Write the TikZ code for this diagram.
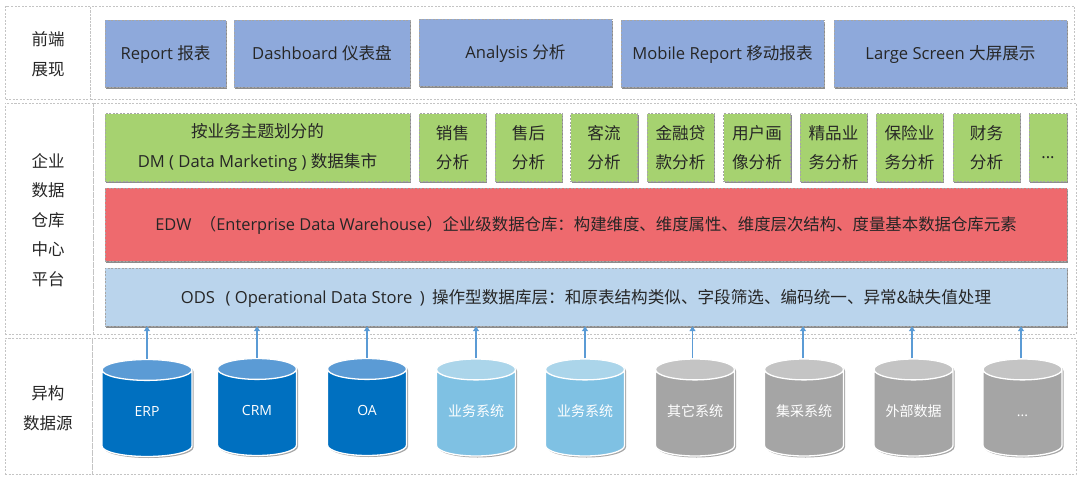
\documentclass[tikz,border=0pt]{standalone}
\usepackage{fontspec}
\setmainfont{Open Sans}
\newfontfamily\cjk{Noto Sans CJK SC}
\usetikzlibrary{shapes.geometric, shadows, arrows.meta}

\newcommand{\zh}[1]{{\cjk #1}}
\newcommand{\storetext}[1]{\makebox[58pt]{\raisebox{-3pt}[0pt][0pt]{#1}}}

\definecolor{framegray}{HTML}{C4C4C4}
\definecolor{inkgray}{HTML}{262626}
\definecolor{bluefill}{HTML}{8EA9DB}
\definecolor{greenfill}{HTML}{A6D270}
\definecolor{redfill}{HTML}{EE6A6E}
\definecolor{skyfill}{HTML}{BAD4EC}
\definecolor{arrowblue}{HTML}{5B9BD5}
\definecolor{darkbody}{HTML}{0070C0}
\definecolor{darkend}{HTML}{5B9BD5}
\definecolor{lightbody}{HTML}{7FC1E3}
\definecolor{lightend}{HTML}{ABD5EA}
\definecolor{graybody}{HTML}{A5A5A5}
\definecolor{grayend}{HTML}{C4C4C4}

\tikzset{
    framecell/.style={draw=framegray, dash pattern=on 2pt off 1.5pt, line width=0.6pt, inner sep=0pt},
    rowlabel/.style={text=inkgray, align=center, inner sep=0pt, font=\fontsize{16.5}{29.5}\selectfont},
    layerbox/.style={draw=black!35, dash pattern=on 2pt off 1.5pt, line width=0.4pt, text=inkgray, align=center, inner sep=0pt,
        font=\fontsize{16.6}{29.5}\selectfont,
        drop shadow={shadow xshift=1pt, shadow yshift=-1.5pt, opacity=0.45, fill=black}},
    widebox/.style={layerbox, execute at begin node={\rule[-6pt]{0pt}{24.5pt}}},
    bluebox/.style={widebox, fill=bluefill, minimum height=67pt},
    greenbox/.style={layerbox, fill=greenfill, minimum height=68pt, execute at begin node={\rule{0pt}{22pt}}},
    storeshape/.style={cylinder, shape border rotate=90, aspect=0.36, anchor=shape center, inner sep=0pt,
        minimum width=79pt, minimum height=97pt},
    storeshadow/.style={storeshape, fill=black, opacity=0.35, xshift=1.5pt, yshift=-1.5pt},
    store/.style={storeshape, draw=white, line width=1.3pt, cylinder uses custom fill, text=white,
        font=\fontsize{14}{16}\selectfont},
    darkstore/.style={store, cylinder body fill=darkbody, cylinder end fill=darkend},
    lightstore/.style={store, cylinder body fill=lightbody, cylinder end fill=lightend},
    graystore/.style={store, cylinder body fill=graybody, cylinder end fill=grayend},
    feed/.style={draw=arrowblue, line width=1.1pt, -{Triangle[length=5pt, width=6pt]}}
}

\begin{document}
\begin{tikzpicture}[x=1pt, y=-1pt]
    \useasboundingbox (0, 0) rectangle (1080, 477);

    % frames
    \node[framecell, minimum width=85pt, minimum height=93pt] at (48, 52.5) (frontcell) {};
    \node[framecell, minimum width=984pt, minimum height=93pt] at (582.5, 52.5) (frontmain) {};
    \node[framecell, minimum width=88pt, minimum height=231pt] at (49, 218.5) (dwcell) {};
    \node[framecell, minimum width=983pt, minimum height=231pt] at (584.5, 218.5) (dwmain) {};
    \node[framecell, minimum width=87pt, minimum height=136pt] at (48.5, 406) (srccell) {};
    \node[framecell, minimum width=984pt, minimum height=136pt] at (584, 406) (srcmain) {};

    \node[rowlabel] at (48, 54) (frontlabel) {\zh{前端}\\\zh{展现}};
    \node[rowlabel] at (48, 220) (dwlabel) {\zh{企业}\\\zh{数据}\\\zh{仓库}\\\zh{中心}\\\zh{平台}};
    \node[rowlabel] at (48, 408) (srclabel) {\zh{异构}\\\zh{数据源}};

    % front end
    \node[bluebox, minimum width=121pt] at (165.5, 53.5) (report) {Report \zh{报表}};
    \node[bluebox, minimum width=176pt] at (322, 53.5) (dashboard) {Dashboard \zh{仪表盘}};
    \node[bluebox, minimum width=193pt] at (515.5, 52.5) (analysis) {Analysis \zh{分析}};
    \node[bluebox, minimum width=203pt] at (722.5, 53.5) (mobile) {Mobile Report \zh{移动报表}};
    \node[bluebox, minimum width=233pt] at (950.5, 53.5) (screen) {Large Screen \zh{大屏展示}};

    % data marts
    \node[greenbox, minimum width=305pt] at (257.5, 147.5) (dm) {\zh{按业务主题划分的}\\DM ( Data Marketing ) \zh{数据集市}};
    \node[greenbox, minimum width=67pt] at (452.5, 147.5) (sales) {\zh{销售}\\\zh{分析}};
    \node[greenbox, minimum width=67pt] at (528.5, 147.5) (service) {\zh{售后}\\\zh{分析}};
    \node[greenbox, minimum width=67pt] at (604, 147.5) (traffic) {\zh{客流}\\\zh{分析}};
    \node[greenbox, minimum width=67pt] at (680.5, 147.5) (loan) {\zh{金融贷}\\\zh{款分析}};
    \node[greenbox, minimum width=67pt] at (757, 147.5) (profile) {\zh{用户画}\\\zh{像分析}};
    \node[greenbox, minimum width=67pt] at (833.5, 147.5) (boutique) {\zh{精品业}\\\zh{务分析}};
    \node[greenbox, minimum width=67pt] at (909.5, 147.5) (insurance) {\zh{保险业}\\\zh{务分析}};
    \node[greenbox, minimum width=67pt] at (986.5, 147.5) (finance) {\zh{财务}\\\zh{分析}};
    \node[greenbox, minimum width=38pt] at (1048, 147.5) (moremart) {...};

    % warehouse layers
    \node[widebox, fill=redfill, minimum width=962pt, minimum height=73pt, font=\fontsize{16.4}{29}\selectfont] at (586, 224.5) (edw)
        {EDW \ \zh{（}Enterprise Data Warehouse\zh{）企业级数据仓库：构建维度、维度属性、维度层次结构、度量基本数据仓库元素}};
    \node[widebox, fill=skyfill, minimum width=962pt, minimum height=58pt] at (586, 297) (ods)
        {ODS \ \hspace{2pt}( Operational Data Store \hspace{3pt}) \hspace{3pt}\zh{操作型数据库层：和原表结构类似、字段筛选、编码统一、异常\&缺失值处理}};

    % sources
    \foreach \sx/\sy/\sw [count=\n] in {147/408/90, 257/407/79, 367/407/79, 476/407.5/79, 585/407.5/79, 695/407.5/79, 804/407.5/79, 913.5/407.5/79, 1022.5/407.5/79}
        \node[storeshadow, minimum width=\sw pt] at (\sx, \sy) (shade\n) {\phantom{\storetext{.}}};

    \node[darkstore, minimum width=90pt] at (147, 408) (erp) {\storetext{ERP}};
    \node[darkstore] at (257, 407) (crm) {\storetext{CRM}};
    \node[darkstore] at (367, 407) (oa) {\storetext{OA}};
    \node[lightstore] at (476, 407.5) (bizone) {\storetext{\zh{业务系统}}};
    \node[lightstore] at (585, 407.5) (biztwo) {\storetext{\zh{业务系统}}};
    \node[graystore] at (695, 407.5) (other) {\storetext{\zh{其它系统}}};
    \node[graystore] at (804, 407.5) (purchase) {\storetext{\zh{集采系统}}};
    \node[graystore] at (913.5, 407.5) (external) {\storetext{\zh{外部数据}}};
    \node[graystore] at (1022.5, 407.5) (moresrc) {\storetext{...}};

    \draw[feed] (erp.north) -- (erp.north |- ods.south);
    \draw[feed] (crm.north) -- (crm.north |- ods.south);
    \draw[feed] (oa.north) -- (oa.north |- ods.south);
    \draw[feed] (bizone.north) -- (bizone.north |- ods.south);
    \draw[feed] (biztwo.north) -- (biztwo.north |- ods.south);
    \draw[feed] ([xshift=-2.5pt]other.north) -- ([xshift=-2.5pt]other.north |- ods.south);
    \draw[feed] ([xshift=-1pt]purchase.north) -- ([xshift=-1pt]purchase.north |- ods.south);
    \draw[feed] ([xshift=-1.5pt]external.north) -- ([xshift=-1.5pt]external.north |- ods.south);
    \draw[feed] ([xshift=-1.5pt]moresrc.north) -- ([xshift=-1.5pt]moresrc.north |- ods.south);
\end{tikzpicture}
\end{document}
